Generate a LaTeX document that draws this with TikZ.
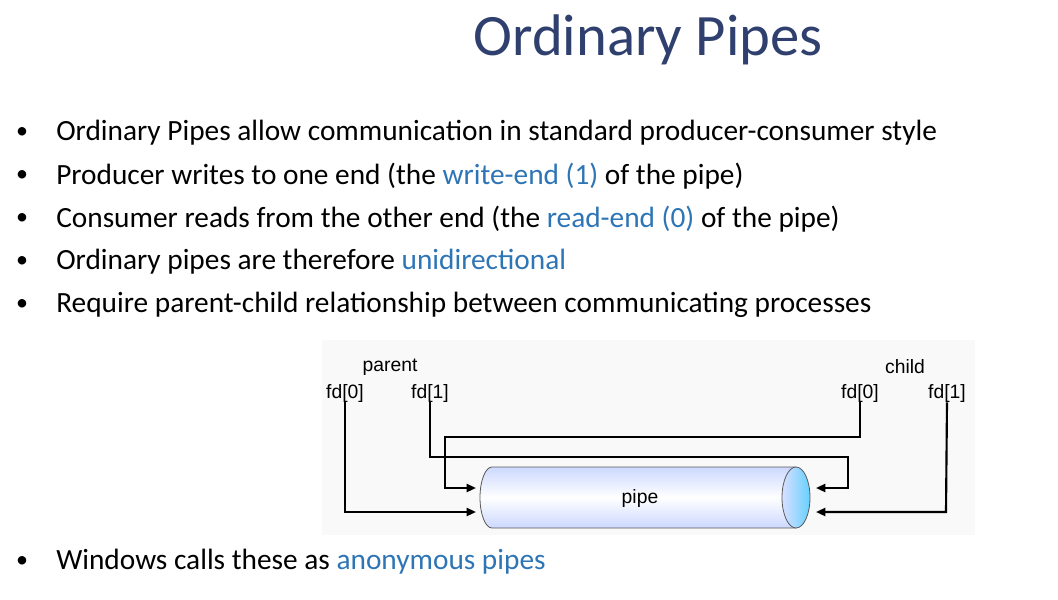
\documentclass[tikz,border=0pt]{standalone}
\usepackage{fontspec}
\setmainfont{Carlito}
\newfontfamily\diagfont{Liberation Sans}
\usetikzlibrary{arrows.meta}
\definecolor{titleblue}{RGB}{47,64,110}
\definecolor{linkblue}{RGB}{46,117,182}
\newcommand{\hl}[1]{\textcolor{linkblue}{#1}}
\begin{document}
\begin{tikzpicture}[x=0.75pt, y=-0.75pt,
    item/.style={anchor=west, font=\fontsize{22}{24}\selectfont, inner sep=0pt},
    bullet/.style={font=\fontsize{18}{20}\selectfont, inner sep=0pt},
    lbl/.style={font=\diagfont\fontsize{14.5}{16}\selectfont, inner sep=0pt},
    arrow/.style={-{Triangle[length=7pt,width=6pt]}, line width=1.6pt},
    wire/.style={line width=1.6pt}
]
    \useasboundingbox (0,0) rectangle (1058,600);
    % Title
    \node[font=\fontsize{44}{50}\selectfont, text=titleblue] (title) at (648,40) {Ordinary Pipes};
    % Bullets
    \foreach \y/\t [count=\i] in {
        133/{Ordinary Pipes allow communication in standard producer-consumer style},
        176/{Producer writes to one end (the \hl{write-end (1)} of the pipe)},
        219/{Consumer reads from the other end (the \hl{read-end (0)} of the pipe)},
        262/{Ordinary pipes are therefore \hl{unidirectional}},
        305/{Require parent-child relationship between communicating processes},
        562/{Windows calls these as \hl{anonymous pipes}}} {
        \node[bullet] (b\i) at (22,\y) {\textbullet};
        \node[item] (t\i) at (56,\y) {\t};
    }
    % Diagram
    \fill[gray!5] (322,340) rectangle (975,535);
    \node[lbl] (parent) at (390,367) {parent};
    \node[lbl] (child) at (905,367) {child};
    \node[lbl] (pfd0) at (345,393) {fd[0]};
    \node[lbl] (pfd1) at (430,393) {fd[1]};
    \node[lbl] (cfd0) at (860,393) {fd[0]};
    \node[lbl] (cfd1) at (947,393) {fd[1]};
    % Pipe cylinder
    \shade[top color=cyan!25!blue!20, bottom color=cyan!25!blue!20, middle color=white]
        (796,467) -- (492,467) arc[start angle=270, end angle=90, x radius=12, y radius=30.5] -- (796,528) -- cycle;
    \draw[gray!70!black, line width=0.6pt]
        (796,467) -- (492,467) arc[start angle=270, end angle=90, x radius=12, y radius=30.5] -- (796,528);
    \shade[left color=cyan!15!blue!15, right color=cyan!70!blue!60, draw=gray!70!black, line width=0.6pt]
        (796,497.5) ellipse[x radius=14, y radius=30.5];
    \node[lbl] (pipe) at (640,498) {pipe};
    \coordinate (pl) at (476,0);
    \coordinate (pr) at (816,0);
    % Connectors
    \draw[arrow] (pfd0.south) -- (345,512) -- (pl |- 0,512);
    \draw[arrow] (pfd1.south) -- (430,457) -- (848,457) -- (848,488) -- (pr |- 0,488);
    \draw[arrow] (cfd0.south) -- (860,437) -- (445,437) -- (445,488) -- (pl |- 0,488);
    \draw[arrow] (cfd1.south) -- (946,512) -- (pr |- 0,512);
\end{tikzpicture}
\end{document}
